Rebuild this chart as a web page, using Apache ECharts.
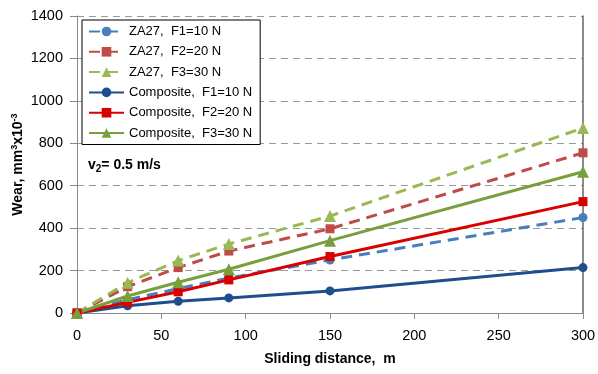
<!DOCTYPE html>
<html>
<head>
<meta charset="utf-8">
<script src="https://cdn.jsdelivr.net/npm/echarts@6/dist/echarts.min.js"></script>
<style>
  html, body { margin: 0; padding: 0; background: #fff; }
  #chart { width: 598px; height: 374px; }
</style>
</head>
<body>
<div id="chart"></div>
<script>
// Sliding distances (m) at which wear was measured
const distances = [0, 30, 60, 90, 150, 300];

// Wear, mm^3 x 10^-3
const za27F1 = [0, 62, 115, 165, 250, 450];
const za27F2 = [0, 124, 214, 292, 397, 755];
const za27F3 = [0, 143, 247, 325, 457, 872];
const compF1 = [0, 34, 55, 71, 104, 214];
const compF2 = [0, 50, 100, 156, 266, 525];
const compF3 = [0, 80, 145, 206, 341, 666];

const seriesNames = [
  'ZA27,  F1=10 N', 'ZA27,  F2=20 N', 'ZA27,  F3=30 N',
  'Composite,  F1=10 N', 'Composite,  F2=20 N', 'Composite,  F3=30 N'
];

const FONT = '"Liberation Sans", Arial, sans-serif';

function pairs(ys) { return distances.map((x, i) => [x, ys[i]]); }

function lineSeries(name, ys, color, dashed, symbol, size) {
  return {
    name: name,
    type: 'line',
    data: pairs(ys),
    symbol: symbol,
    symbolSize: size,
    showSymbol: true,
    lineStyle: { color: color, width: 3, type: dashed ? [11, 7] : 'solid' },
    itemStyle: { color: color },
    emphasis: { disabled: true },
    animation: false
  };
}

const chart = echarts.init(document.getElementById('chart'), null, { renderer: 'canvas' });

chart.setOption({
  animation: false,
  backgroundColor: '#fff',
  grid: { left: 77, right: 15, top: 16, bottom: 61, containLabel: false, outerBoundsMode: 'none' },
  xAxis: {
    type: 'value',
    min: 0, max: 300, interval: 50,
    name: 'Sliding distance,  m',
    nameLocation: 'middle',
    nameGap: 39,
    nameMoveOverlap: false,
    nameTextStyle: { fontFamily: FONT, fontSize: 14, fontWeight: 'bold', color: '#000' },
    axisLine: { lineStyle: { color: '#888', width: 1 } },
    axisTick: { show: true, inside: false, length: 6, lineStyle: { color: '#888' } },
    axisLabel: { fontFamily: FONT, fontSize: 14.5, color: '#000', margin: 15 },
    splitLine: { show: false }
  },
  yAxis: [{
    type: 'value',
    min: 0, max: 1400, interval: 200,
    name: '{a|Wear, mm}{s|3}{a|x10}{s|-3}',
    nameLocation: 'middle',
    nameGap: 51,
    nameMoveOverlap: false,
    nameRotate: 90,
    nameTextStyle: {
      rich: {
        a: { fontFamily: FONT, fontSize: 14, fontWeight: 'bold', color: '#000', lineHeight: 16 },
        s: { fontFamily: FONT, fontSize: 9, fontWeight: 'bold', color: '#000', verticalAlign: 'top', lineHeight: 16, padding: [0, 0, 6, 0] }
      }
    },
    axisLine: { show: true, lineStyle: { color: '#888', width: 1 } },
    axisTick: { show: true, inside: false, length: 7, lineStyle: { color: '#888' } },
    axisLabel: { fontFamily: FONT, fontSize: 14.5, color: '#000', margin: 14, formatter: v => String(v) },
    splitLine: { show: true, lineStyle: { color: '#999', type: [7, 5], width: 1 } }
  }, {
    type: 'value',
    position: 'right',
    min: 0, max: 1400, interval: 200,
    axisLine: { show: true, lineStyle: { color: '#666', width: 1.5 } },
    axisTick: { show: false },
    axisLabel: { show: false },
    splitLine: { show: false }
  }],
  legend: {
    orient: 'vertical',
    left: 82,
    top: 20,
    width: 176,
    padding: [5, 8, 5, 6],
    itemWidth: 35,
    itemHeight: 12,
    itemGap: 7.3,
    borderColor: '#000',
    borderWidth: 1,
    backgroundColor: '#fff',
    textStyle: { fontFamily: FONT, fontSize: 13, color: '#000' },
    data: seriesNames
  },
  graphic: [{
    type: 'text',
    left: 88,
    top: 158,
    style: {
      text: '{a|v}{b|2}{a|= 0.5 m/s}',
      rich: {
        a: { fontFamily: FONT, fontSize: 14, fontWeight: 'bold', fill: '#000', lineHeight: 18 },
        b: { fontFamily: FONT, fontSize: 10, fontWeight: 'bold', fill: '#000', verticalAlign: 'bottom', lineHeight: 18, padding: [6, 0, 0, 0] }
      }
    }
  }],
  series: [
    lineSeries(seriesNames[0], za27F1, '#4A7EBB', true, 'circle', 9),
    lineSeries(seriesNames[1], za27F2, '#BE4B48', true, 'rect', 9),
    lineSeries(seriesNames[2], za27F3, '#98B954', true, 'triangle', 12),
    lineSeries(seriesNames[3], compF1, '#1F4E8C', false, 'circle', 9),
    lineSeries(seriesNames[4], compF2, '#D90000', false, 'rect', 9),
    lineSeries(seriesNames[5], compF3, '#77A03C', false, 'triangle', 12)
  ]
});
</script>
</body>
</html>
